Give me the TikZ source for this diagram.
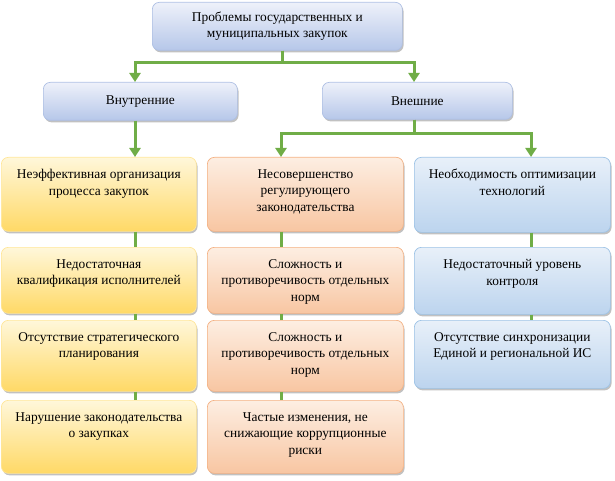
\documentclass[tikz,border=0pt]{standalone}
\usepackage{fontspec}
\setmainfont{Liberation Serif}
\usetikzlibrary{arrows.meta,shadows}
\definecolor{hdtop}{HTML}{EEF1FA}
\definecolor{hdbot}{HTML}{B6C7E9}
\definecolor{hdline}{HTML}{AEC0E4}
\definecolor{yetop}{HTML}{FFF7DA}
\definecolor{yebot}{HTML}{FFD966}
\definecolor{yeline}{HTML}{FFE699}
\definecolor{ortop}{HTML}{FDEEE2}
\definecolor{orbot}{HTML}{F8C6A2}
\definecolor{orline}{HTML}{F4B183}
\definecolor{bltop}{HTML}{E8F0F9}
\definecolor{blbot}{HTML}{BCD4EE}
\definecolor{blline}{HTML}{9DC3E6}
\definecolor{conngreen}{HTML}{70AD47}
\newcommand\boxtext[3]{\parbox[c][#2][t]{#1}{\centering\vspace*{12pt}#3}}
\newcommand\boxmid[3]{\parbox[c][#2][c]{#1}{\centering #3}}
\tikzset{
  pbox/.style={rounded corners=7pt, draw, line width=0.7pt, inner sep=0pt,
    anchor=north west, font=\fontsize{13.4}{16.5}\selectfont,
    drop shadow={shadow xshift=1.2pt, shadow yshift=-2pt, opacity=0.35, fill=black!70}},
  hdbox/.style={pbox, draw=hdline, top color=hdtop, bottom color=hdbot},
  yebox/.style={pbox, draw=yeline, top color=yetop, bottom color=yebot},
  orbox/.style={pbox, draw=orline, top color=ortop, bottom color=orbot},
  blbox/.style={pbox, draw=blline, top color=bltop, bottom color=blbot},
  conn/.style={draw=conngreen, line width=3pt},
  connarr/.style={conn, -{Triangle[width=11pt,length=9pt]}}
}
\begin{document}
\begin{tikzpicture}[x=1pt,y=-1pt]
\useasboundingbox (0,0) rectangle (615,481);
% header
\node[hdbox] (top) at (152,2) {\boxmid{250pt}{48pt}{Проблемы государственных и\\ муниципальных закупок}};
\node[hdbox] (inner) at (43,82) {\boxmid{194pt}{38pt}{Внутренние}};
\node[hdbox] (outer) at (322,82) {\boxmid{190pt}{37pt}{Внешние}};
% left column
\node[yebox] (L1) at (1,157) {\boxtext{195pt}{74pt}{Неэффективная организация\\ процесса закупок}};
\node[yebox] (L2) at (1,247) {\boxtext{195pt}{66pt}{Недостаточная\\ квалификация исполнителей}};
\node[yebox] (L3) at (1,320) {\boxtext{195pt}{71pt}{Отсутствие стратегического\\ планирования}};
\node[yebox] (L4) at (1,400) {\boxtext{195pt}{73pt}{Нарушение законодательства\\ о закупках}};
% middle column
\node[orbox] (M1) at (207,157) {\boxtext{196pt}{74pt}{Несовершенство\\ регулирующего\\ законодательства}};
\node[orbox] (M2) at (207,247) {\boxtext{196pt}{66pt}{Сложность и\\ противоречивость отдельных\\ норм}};
\node[orbox] (M3) at (207,320) {\boxtext{196pt}{71pt}{Сложность и\\ противоречивость отдельных\\ норм}};
\node[orbox] (M4) at (207,400) {\boxtext{196pt}{73pt}{Частые изменения, не\\ снижающие коррупционные\\ риски}};
% right column
\node[blbox] (R1) at (414,157) {\boxtext{196pt}{75pt}{Необходимость оптимизации\\ технологий}};
\node[blbox] (R2) at (414,247) {\boxtext{196pt}{67pt}{Недостаточный уровень\\ контроля}};
\node[blbox] (R3) at (414,320) {\boxtext{196pt}{68pt}{Отсутствие синхронизации\\ Единой и региональной ИС}};
% connector columns
\coordinate (ctop) at (282,0);
\coordinate (cl) at (135,0);
\coordinate (co) at (414,0);
\coordinate (cm) at (281,0);
\coordinate (cr) at (531,0);
% connectors
\draw[connarr] (top.south -| ctop) -- ++(0,12) -| (inner.north -| cl);
\draw[connarr] (top.south -| ctop) -- ++(0,12) -| (outer.north -| co);
\draw[connarr] (inner.south -| cl) -- (L1.north -| cl);
\draw[connarr] (outer.south -| co) -- ++(0,14) -| (M1.north -| cm);
\draw[connarr] (outer.south -| co) -- ++(0,14) -| (R1.north -| cr);
\draw[conn] (L1.south -| cl) -- (L2.north -| cl);
\draw[conn] (L2.south -| cl) -- (L3.north -| cl);
\draw[conn] (L3.south -| cl) -- (L4.north -| cl);
\draw[conn] (M1.south -| cm) -- (M2.north -| cm);
\draw[conn] (M2.south -| cm) -- (M3.north -| cm);
\draw[conn] (M3.south -| cm) -- (M4.north -| cm);
\draw[conn] (R1.south -| cr) -- (R2.north -| cr);
\draw[conn] (R2.south -| cr) -- (R3.north -| cr);
\end{tikzpicture}
\end{document}
